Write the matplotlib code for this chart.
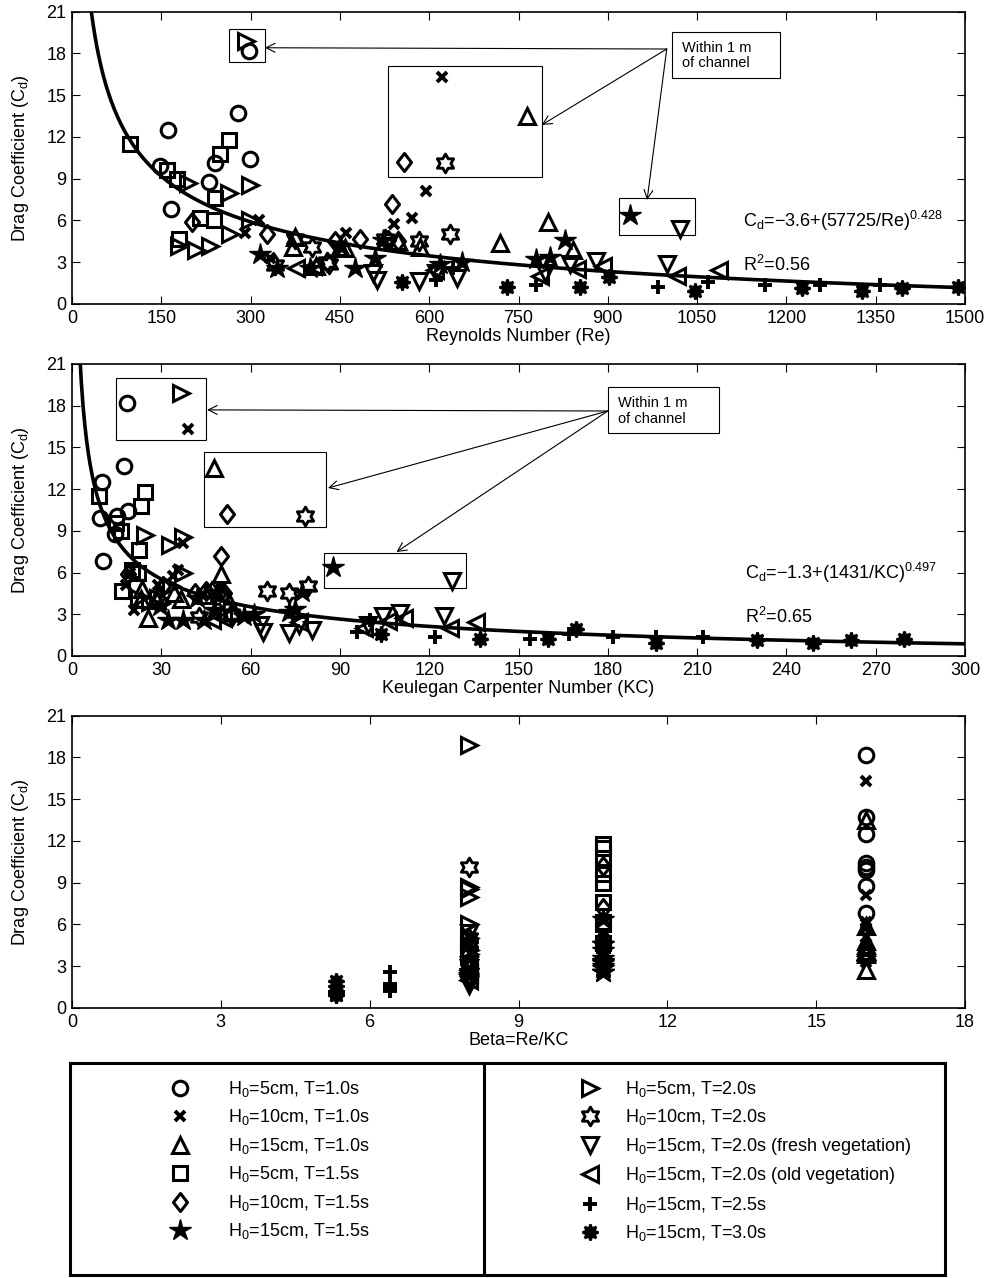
import numpy as np
import matplotlib
matplotlib.use("Agg")
import matplotlib.pyplot as plt
from matplotlib.path import Path
from matplotlib.patches import Rectangle
from matplotlib.font_manager import FontProperties

plt.rcParams['font.family'] = ['Liberation Sans', 'DejaVu Sans']
plt.rcParams['mathtext.default'] = 'regular'

# ---- data: Re and Cd per run, beta = Re/KC per wave period ----
labels = ['H$_0$=5cm, T=1.0s', 'H$_0$=10cm, T=1.0s', 'H$_0$=15cm, T=1.0s',
          'H$_0$=5cm, T=1.5s', 'H$_0$=10cm, T=1.5s', 'H$_0$=15cm, T=1.5s',
          'H$_0$=5cm, T=2.0s', 'H$_0$=10cm, T=2.0s',
          'H$_0$=15cm, T=2.0s (fresh vegetation)', 'H$_0$=15cm, T=2.0s (old vegetation)',
          'H$_0$=15cm, T=2.5s', 'H$_0$=15cm, T=3.0s']
beta = [16, 16, 16, 10.7, 10.7, 10.7, 8, 8, 8, 8, 6.4, 5.33]

re_h5_t10 = [297, 278, 161, 299, 148, 240, 230, 166]
cd_h5_t10 = [18.2, 13.7, 12.5, 10.4, 9.9, 10.1, 8.8, 6.8]
re_h10_t10 = [621, 594, 571, 541, 461, 314, 291, 333]
cd_h10_t10 = [16.3, 8.1, 6.2, 5.75, 5.1, 6.0, 5.1, 3.3]
re_h15_t10 = [765, 800, 719, 842, 375, 371, 459, 548, 585, 450, 410]
cd_h15_t10 = [13.5, 5.9, 4.4, 3.9, 4.8, 4.1, 4.0, 4.5, 4.1, 4.1, 2.7]
re_h5_t15 = [97, 263, 249, 159, 176, 241, 215, 239, 179]
cd_h5_t15 = [11.5, 11.8, 10.8, 9.6, 9.0, 7.6, 6.15, 6.0, 4.7]
re_h10_t15 = [558, 537, 483, 202, 327, 531, 548, 442]
cd_h10_t15 = [10.2, 7.2, 4.7, 5.9, 5.0, 4.6, 4.5, 4.5]
re_h15_t15 = [937, 828, 803, 780, 618, 655, 475, 509, 316, 344, 400, 450, 522]
cd_h15_t15 = [6.4, 4.6, 3.4, 3.2, 2.9, 3.0, 2.6, 3.3, 3.6, 2.6, 2.6, 4.2, 4.6]
re_h5_t20 = [293, 195, 263, 299, 299, 209, 232, 265, 179]
cd_h5_t20 = [18.9, 8.7, 8.0, 8.55, 6.0, 3.9, 4.2, 5.0, 4.2]
re_h10_t20 = [627, 635, 583, 525, 375, 403, 428, 341, 431]
cd_h10_t20 = [10.1, 5.0, 4.5, 4.7, 4.7, 4.1, 3.0, 2.8, 2.9]
re_fresh = [1021, 999, 881, 837, 795, 646, 583, 512, 611, 506]
cd_fresh = [5.4, 2.9, 3.1, 2.9, 2.2, 1.85, 1.65, 1.7, 2.25, 2.2]
re_old = [1086, 1016, 892, 377, 405, 610, 848, 786]
cd_old = [2.45, 2.0, 2.7, 2.6, 2.7, 2.45, 2.55, 2.0]
re_h15_t25 = [612, 640, 780, 985, 1069, 1164, 1256, 1357]
cd_h15_t25 = [1.7, 2.6, 1.4, 1.25, 1.6, 1.4, 1.4, 1.35]
re_h15_t30 = [554, 730, 853, 902, 1046, 1226, 1327, 1394, 1489]
cd_h15_t30 = [1.6, 1.25, 1.25, 1.96, 0.96, 1.13, 0.96, 1.13, 1.2]

re_data = [re_h5_t10, re_h10_t10, re_h15_t10, re_h5_t15, re_h10_t15, re_h15_t15,
           re_h5_t20, re_h10_t20, re_fresh, re_old, re_h15_t25, re_h15_t30]
cd_data = [cd_h5_t10, cd_h10_t10, cd_h15_t10, cd_h5_t15, cd_h10_t15, cd_h15_t15,
           cd_h5_t20, cd_h10_t20, cd_fresh, cd_old, cd_h15_t25, cd_h15_t30]

# fitted curves (coefficients printed on the figure)
fit_re = (-3.6, 57725, 0.428)
fit_kc = (-1.3, 1431, 0.497)

# ---- marker shapes ----
k = np.arange(12)
ang = np.deg2rad(90 + 30 * k)
rad = np.where(k % 2 == 0, 1.0, 0.58)
hv = np.column_stack([rad * np.cos(ang), rad * np.sin(ang)])
hexagram = Path(np.vstack([hv, hv[:1]]), closed=True)
diamond = Path([(0, 1), (0.78, 0), (0, -1), (-0.78, 0), (0, 1)], closed=True)

styles = [
    dict(marker='o', ms=10.5, mew=2.2, mfc='none'),
    dict(marker='x', ms=7.5, mew=2.8, mfc='none'),
    dict(marker='^', ms=11.5, mew=2.2, mfc='none'),
    dict(marker='s', ms=9.5, mew=2.2, mfc='none'),
    dict(marker=diamond, ms=13, mew=2.2, mfc='none'),
    dict(marker='*', ms=16, mew=1, mfc='k'),
    dict(marker='>', ms=11.5, mew=2.2, mfc='none'),
    dict(marker=hexagram, ms=13.5, mew=2.1, mfc='none'),
    dict(marker='v', ms=11.5, mew=2.2, mfc='none'),
    dict(marker='<', ms=11.5, mew=2.2, mfc='none'),
    dict(marker='+', ms=9.5, mew=2.8, mfc='none'),
    dict(marker=(8, 1, 0), ms=11.5, mew=1.8, mfc='k'),
]

W, H = 989, 1278
fig = plt.figure(figsize=(W / 100, H / 100), dpi=100)


def px_axes(x0, y0, x1, y1):
    return fig.add_axes([x0 / W, 1 - y1 / H, (x1 - x0) / W, (y1 - y0) / H])


ax1 = px_axes(72, 11.7, 965, 304)
ax2 = px_axes(72, 364, 965, 656)
ax3 = px_axes(72, 715.7, 965, 1008)

handles = []
for i in range(12):
    re = np.array(re_data[i], dtype=float)
    cd = np.array(cd_data[i], dtype=float)
    h, = ax1.plot(re, cd, ls='none', mec='k', color='k', **styles[i])
    handles.append(h)
    ax2.plot(re / beta[i], cd, ls='none', mec='k', color='k', **styles[i])
    ax3.plot(np.full(len(re), beta[i]), cd, ls='none', mec='k', color='k', **styles[i])

re_line = np.linspace(30, 1500, 500)
ax1.plot(re_line, fit_re[0] + (fit_re[1] / re_line) ** fit_re[2], 'k-', lw=2.6)
kc_line = np.linspace(2.5, 300, 500)
ax2.plot(kc_line, fit_kc[0] + (fit_kc[1] / kc_line) ** fit_kc[2], 'k-', lw=2.6)

for ax, xmax, step, xl in [(ax1, 1500, 150, 'Reynolds Number (Re)'),
                           (ax2, 300, 30, 'Keulegan Carpenter Number (KC)'),
                           (ax3, 18, 3, 'Beta=Re/KC')]:
    ax.set_xlim(0, xmax)
    ax.set_ylim(0, 21)
    ax.set_xticks(np.arange(0, xmax + step / 2, step))
    ax.set_yticks(np.arange(0, 22, 3))
    ax.tick_params(direction='in', top=True, right=True, length=6, width=0.8,
                   labelsize=13, pad=4)
    for s in ax.spines.values():
        s.set_linewidth(1.2)
    ax.set_xlabel(xl, fontsize=13, labelpad=1)
    ax.set_ylabel('Drag Coefficient (C$_d$)', fontsize=13)
    ax.yaxis.set_label_coords(-0.046, 0.5)


def callouts(ax, boxes, tbox, tpos, origin, targets, eqpos, eqtext, r2pos, r2text):
    for (x0, y0, w, h) in boxes:
        ax.add_patch(Rectangle((x0, y0), w, h, fill=False, ec='k', lw=0.8, zorder=5))
    ax.add_patch(Rectangle(tbox[:2], tbox[2], tbox[3], fc='white', ec='k', lw=0.8, zorder=5))
    ax.text(tpos[0], tpos[1], 'Within 1 m\nof channel', fontsize=10.5, va='center',
            ha='left', linespacing=1.15, zorder=6)
    for t in targets:
        ax.annotate('', xy=t, xytext=origin,
                    arrowprops=dict(arrowstyle='->', lw=0.8, color='k',
                                    mutation_scale=16, shrinkA=0, shrinkB=0), zorder=6)
    ax.text(eqpos[0], eqpos[1], eqtext, fontsize=13, va='center')
    ax.text(r2pos[0], r2pos[1], r2text, fontsize=13, va='center')


callouts(ax1,
         [(264, 17.39, 60, 2.37), (531, 9.12, 258, 7.98), (919, 4.96, 127, 2.65)],
         (1007, 16.24, 183, 3.3), (1024, 17.85), (999, 18.32),
         [(324, 18.41), (789, 12.86), (966, 7.47)],
         (1127, 6.0), 'C$_d$=\u22123.6+(57725/Re)$^{0.428}$',
         (1127, 2.8), 'R$^2$=0.56')
callouts(ax2,
         [(14.8, 15.53, 30.2, 4.47), (44.3, 9.28, 41, 5.39), (84.7, 4.89, 47.7, 2.52)],
         (180, 16.04, 37.4, 3.31), (183.3, 17.6), (180, 17.62),
         [(45.4, 17.7), (86, 12.08), (109, 7.48)],
         (226, 6.0), 'C$_d$=\u22121.3+(1431/KC)$^{0.497}$',
         (226, 2.83), 'R$^2$=0.65')

# ---- legend panel ----
axl = px_axes(70, 1063, 945, 1275)
axl.set_xlim(0, 1)
axl.set_ylim(0, 1)
axl.set_xticks([])
axl.set_yticks([])
for s in axl.spines.values():
    s.set_linewidth(2.2)
axl.axvline((484 - 70) / 875, color='k', lw=2.2)

lp = FontProperties(family=['Liberation Sans'], size=13)
leg1 = axl.legend(handles[:6], labels[:6], loc='upper left', bbox_to_anchor=(0.110, 0.925),
                  frameon=False, handlelength=1.5, handletextpad=1.9, labelspacing=0.47,
                  borderpad=0, borderaxespad=0, prop=lp)
axl.add_artist(leg1)
axl.legend(handles[6:], labels[6:], loc='upper left', bbox_to_anchor=(0.579, 0.925),
           frameon=False, handlelength=1.5, handletextpad=1.2, labelspacing=0.47,
           borderpad=0, borderaxespad=0, prop=lp)

fig.savefig('out.png', dpi=100)
